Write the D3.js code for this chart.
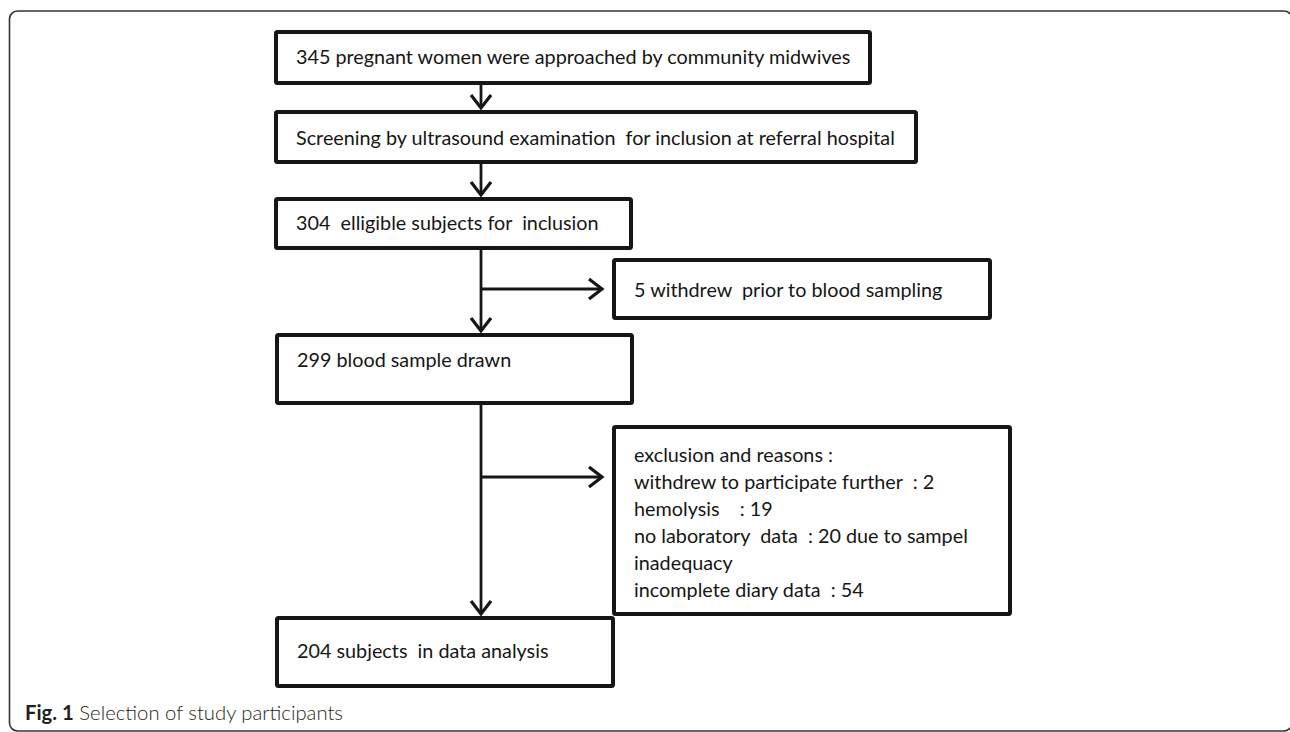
<!DOCTYPE html>
<html>
<head>
<meta charset="utf-8">
<script src="https://cdn.jsdelivr.net/npm/d3@7"></script>
<style>
  html, body { margin: 0; padding: 0; background: #fff; }
  svg { display: block; }
  text { white-space: pre; }
</style>
</head>
<body>
<div id="chart"></div>
<script>
// flow steps (main column) and the side notes that branch off
const mainSteps = [
    "345 pregnant women were approached by community midwives",
    "Screening by ultrasound examination  for inclusion at referral hospital",
    "304  elligible subjects for  inclusion",
    "299 blood sample drawn",
    "204 subjects  in data analysis"
];
const sideNotes = [
    ["5 withdrew  prior to blood sampling"],
    [
        "exclusion and reasons :",
        "withdrew to participate further  : 2",
        "hemolysis    : 19",
        "no laboratory  data  : 20 due to sampel",
        "inadequacy",
        "incomplete diary data  : 54"
    ]
];
const captionParts = ["Fig. 1", " Selection of study participants"];

const width = 1290, height = 732;
const font = "Lato, 'Open Sans', sans-serif";
const ink = "#161616";
const labelSize = "19.8px";

// layout of the boxes (outer edges) and label baselines
const mainBoxes = [
    { x0: 274, y0: 30, x1: 872, y1: 85, base: 64 },
    { x0: 274, y0: 110, x1: 918, y1: 164, base: 145 },
    { x0: 274, y0: 197, x1: 633, y1: 250, base: 230 },
    { x0: 275, y0: 333, x1: 634, y1: 405, base: 367 },
    { x0: 275, y0: 616, x1: 615, y1: 688, base: 658 }
];
const sideBoxes = [
    { x0: 612, y0: 258, x1: 992, y1: 320, branchY: 289, base: 297 },
    { x0: 612, y0: 425, x1: 1012, y1: 616, branchY: 477, base: 462 }
];
const spineX = 481;
const lineGap = 27;

const svg = d3.select("#chart")
    .append("svg")
    .attr("width", width)
    .attr("height", height);

// figure frame
svg.append("rect")
    .attr("x", 9.5).attr("y", 11)
    .attr("width", 1290 - 9.5 + 2).attr("height", 731 - 11)
    .attr("rx", 8).attr("ry", 8)
    .style("fill", "none")
    .style("stroke", "#333")
    .style("stroke-width", 1.6);

const sw = 4;

function box(b) {
    svg.append("rect")
        .attr("x", b.x0 + sw / 2).attr("y", b.y0 + sw / 2)
        .attr("width", b.x1 - b.x0 - sw).attr("height", b.y1 - b.y0 - sw)
        .attr("rx", 1.5)
        .style("fill", "#fff")
        .style("stroke", ink)
        .style("stroke-width", sw);
}

function chevron(tipX, tipY, dir) {
    const len = 13, half = 10;
    let pts;
    if (dir === "down") {
        pts = [[tipX - half, tipY - len], [tipX, tipY], [tipX + half, tipY - len]];
    } else {
        pts = [[tipX - len, tipY - half], [tipX, tipY], [tipX - len, tipY + half]];
    }
    svg.append("path")
        .attr("d", d3.line()(pts))
        .style("fill", "none")
        .style("stroke", ink)
        .style("stroke-width", 3.2)
        .style("stroke-linejoin", "miter");
}

function line(x1, y1, x2, y2) {
    svg.append("line")
        .attr("x1", x1).attr("y1", y1).attr("x2", x2).attr("y2", y2)
        .style("stroke", ink)
        .style("stroke-width", 2.8);
}

// connectors between main steps
mainBoxes.slice(0, -1).forEach((b, i) => {
    const next = mainBoxes[i + 1];
    const tip = next.y0 - 2;
    line(spineX, b.y1, spineX, tip - 1);
    chevron(spineX, tip, "down");
});

// side branches
sideBoxes.forEach((s) => {
    const tip = s.x0 - 10;
    line(spineX, s.branchY, tip - 1, s.branchY);
    chevron(tip, s.branchY, "right");
});

// boxes
mainBoxes.forEach(box);
sideBoxes.forEach(box);

// labels
svg.selectAll(".stepLabel")
    .data(mainSteps)
    .join("text")
    .attr("class", "stepLabel")
    .attr("x", (d, i) => mainBoxes[i].x0 + 22)
    .attr("y", (d, i) => mainBoxes[i].base)
    .style("font-family", font)
    .style("font-size", labelSize)
    .style("fill", ink)
    .text((d) => d);

sideNotes.forEach((lines, i) => {
    const b = sideBoxes[i];
    svg.selectAll(".note" + i)
        .data(lines)
        .join("text")
        .attr("class", "note" + i)
        .attr("x", b.x0 + 22)
        .attr("y", (d, j) => b.base + j * lineGap)
        .style("font-family", font)
        .style("font-size", labelSize)
        .style("fill", ink)
        .text((d) => d);
});

// caption
const cap = svg.append("text")
    .attr("x", 25)
    .attr("y", 720)
    .style("font-family", font)
    .style("font-size", "20.3px")
    .style("fill", "#231f20");
cap.append("tspan").style("font-weight", "bold").text(captionParts[0]);
cap.append("tspan").style("font-weight", "300").text(captionParts[1]);
</script>
</body>
</html>
